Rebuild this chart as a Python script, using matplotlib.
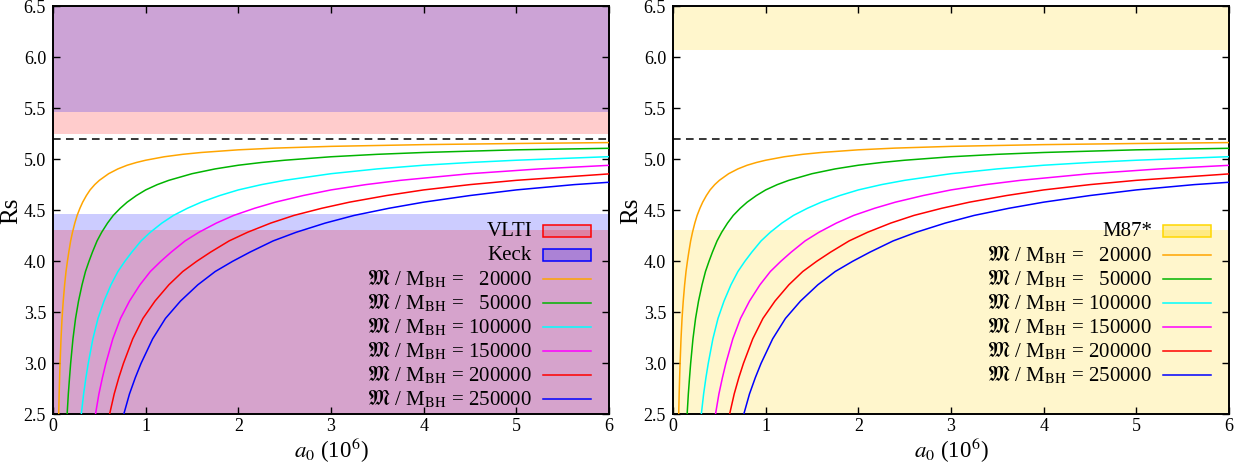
import matplotlib.pyplot as plt
from matplotlib.patches import Rectangle
from matplotlib.lines import Line2D

plt.rcParams['font.family'] = ['Liberation Serif', 'DejaVu Serif']
plt.rcParams['mathtext.fontset'] = 'stix'

# shadow radius curves, one per M/M_BH ratio (a0 in units of 1e6)
masses = [20000, 50000, 100000, 150000, 200000, 250000]
colors = ['#ffa500', '#00b400', '#00ffff', '#ff00ff', '#ff0000', '#0000ff']

a0_20k = [0.061, 0.066, 0.071, 0.076, 0.086, 0.097, 0.110, 0.125, 0.140, 0.155, 0.170, 0.190,
          0.210, 0.235, 0.260, 0.290, 0.320, 0.360, 0.400, 0.450, 0.500, 0.600, 0.700, 0.800,
          0.900, 1.000, 1.200, 1.400, 1.600, 2.000, 2.400, 3.000, 4.000, 5.000, 6.000]
rs_20k = [2.50, 2.70, 2.86, 3.00, 3.24, 3.44, 3.61, 3.77, 3.90, 4.00, 4.09, 4.20,
          4.285, 4.375, 4.45, 4.52, 4.58, 4.645, 4.70, 4.752, 4.794, 4.859, 4.906, 4.942,
          4.969, 4.991, 5.025, 5.049, 5.067, 5.093, 5.110, 5.127, 5.144, 5.155, 5.164]

a0_50k = [0.152, 0.165, 0.178, 0.190, 0.215, 0.243, 0.275, 0.313, 0.350, 0.388, 0.425, 0.475,
          0.525, 0.588, 0.650, 0.725, 0.800, 0.900, 1.000, 1.125, 1.250, 1.500, 1.750, 2.000,
          2.250, 2.500, 3.000, 3.500, 4.000, 5.000, 6.000]
rs_50k = [2.50, 2.70, 2.86, 3.00, 3.24, 3.44, 3.61, 3.77, 3.90, 4.00, 4.09, 4.20,
          4.285, 4.375, 4.45, 4.52, 4.58, 4.645, 4.70, 4.752, 4.794, 4.859, 4.906, 4.942,
          4.969, 4.991, 5.025, 5.049, 5.067, 5.093, 5.108]

a0_100k = [0.305, 0.330, 0.355, 0.380, 0.430, 0.485, 0.550, 0.625, 0.700, 0.775, 0.850, 0.950,
           1.050, 1.175, 1.300, 1.450, 1.600, 1.800, 2.000, 2.250, 2.500, 3.000, 3.500, 4.000,
           4.500, 5.000, 6.000]
rs_100k = [2.50, 2.70, 2.86, 3.00, 3.24, 3.44, 3.61, 3.77, 3.90, 4.00, 4.09, 4.20,
           4.285, 4.375, 4.45, 4.52, 4.58, 4.645, 4.70, 4.752, 4.794, 4.859, 4.906, 4.942,
           4.969, 4.991, 5.026]

a0_150k = [0.458, 0.495, 0.533, 0.570, 0.645, 0.728, 0.825, 0.938, 1.050, 1.163, 1.275, 1.425,
           1.575, 1.763, 1.950, 2.175, 2.400, 2.700, 3.000, 3.375, 3.750, 4.500, 5.250, 6.000]
rs_150k = [2.50, 2.70, 2.86, 3.00, 3.24, 3.44, 3.61, 3.77, 3.90, 4.00, 4.09, 4.20,
           4.285, 4.375, 4.45, 4.52, 4.58, 4.645, 4.70, 4.752, 4.794, 4.859, 4.906, 4.941]

a0_200k = [0.610, 0.660, 0.710, 0.760, 0.860, 0.970, 1.100, 1.250, 1.400, 1.550, 1.700, 1.900,
           2.100, 2.350, 2.600, 2.900, 3.200, 3.600, 4.000, 4.500, 5.000, 6.000]
rs_200k = [2.50, 2.70, 2.86, 3.00, 3.24, 3.44, 3.61, 3.77, 3.90, 4.00, 4.09, 4.20,
           4.285, 4.375, 4.45, 4.52, 4.58, 4.645, 4.70, 4.752, 4.794, 4.857]

a0_250k = [0.763, 0.825, 0.888, 0.950, 1.075, 1.213, 1.375, 1.563, 1.750, 1.938, 2.125, 2.375,
           2.625, 2.938, 3.250, 3.625, 4.000, 4.500, 5.000, 5.625, 6.000]
rs_250k = [2.50, 2.70, 2.86, 3.00, 3.24, 3.44, 3.61, 3.77, 3.90, 4.00, 4.09, 4.20,
           4.285, 4.375, 4.45, 4.52, 4.58, 4.645, 4.70, 4.752, 4.775]

curves = [(a0_20k, rs_20k), (a0_50k, rs_50k), (a0_100k, rs_100k),
          (a0_150k, rs_150k), (a0_200k, rs_200k), (a0_250k, rs_250k)]

# observational exclusion bands: (lower bound, upper bound)
vlti = (4.31, 5.25)
keck = (4.46, 5.46)
m87 = (4.31, 6.07)
rs_schw = 5.196

ymin, ymax = 2.5, 6.5
xmin, xmax = 0, 6

vlti_col = (1, 0, 0, 0.2)
keck_col = (0, 0, 1, 0.2)
m87_col = (1, 0.84, 0, 0.2)

fig = plt.figure(figsize=(12.48, 4.67), dpi=100)
ax1 = fig.add_axes([0.0425, 0.1128, 0.4455, 0.8737])
ax2 = fig.add_axes([0.5393, 0.1128, 0.4455, 0.8737])

def curve_label(m):
    return r'$\mathfrak{M}$ / M$_{\mathrm{BH}}$ = ' + f'{m:d}'.rjust(6, '\u2007')

def setup(ax):
    for (a0, rs), c in zip(curves, colors):
        ax.plot(a0, rs, color=c, lw=1.1, zorder=3)
    ax.axhline(rs_schw, color='black', lw=1.1, ls=(0, (5, 3.5)), zorder=3)
    ax.set_xlim(xmin, xmax)
    ax.set_ylim(ymin, ymax)
    ax.set_xticks(range(0, 7))
    ax.set_yticks([2.5, 3.0, 3.5, 4.0, 4.5, 5.0, 5.5, 6.0, 6.5])
    ax.set_yticklabels([f'{v:.1f}' for v in ax.get_yticks()])
    ax.tick_params(direction='in', top=True, right=True, length=5, width=1,
                   labelsize=13, pad=5)
    ax.tick_params(axis='x', pad=3)
    for s in ax.spines.values():
        s.set_linewidth(1.4)
    ax.set_xlabel(r'$a_0$ (10$^6$)', fontsize=16.5, labelpad=0)
    ax.set_ylabel('Rs', fontsize=18)
    ax.yaxis.set_label_coords(-0.056, 0.5)

def key(ax, entries):
    # gnuplot-style key: right-aligned text, sample on the right
    y0, dy = 0.4485, 0.0588
    tx, hx0, hx1 = 0.8615, 0.881, 0.9676
    for i, (label, kind, col, edge) in enumerate(entries):
        y = y0 - i * dy
        ax.text(tx, y, label, transform=ax.transAxes, ha='right', va='center',
                fontsize=15, zorder=6)
        if kind == 'box':
            ax.add_patch(Rectangle((hx0, y - 0.0147), hx1 - hx0, 0.0294,
                                   transform=ax.transAxes, facecolor=col,
                                   edgecolor=edge, lw=1.1, zorder=6))
        else:
            ax.add_line(Line2D([hx0, hx1], [y, y], transform=ax.transAxes,
                               color=col, lw=1.1, zorder=6))

# left panel: VLTI and Keck
ax1.axhspan(ymin, keck[0], color=keck_col, lw=0)
ax1.axhspan(ymin, vlti[0], color=vlti_col, lw=0)
ax1.axhspan(vlti[1], ymax, color=vlti_col, lw=0)
ax1.axhspan(keck[1], ymax, color=keck_col, lw=0)
setup(ax1)
key(ax1, [('VLTI', 'box', vlti_col, 'red'), ('Keck', 'box', keck_col, 'blue')]
    + [(curve_label(m), 'line', c, None) for m, c in zip(masses, colors)])

# right panel: M87*
ax2.axhspan(ymin, m87[0], color=m87_col, lw=0)
ax2.axhspan(m87[1], ymax, color=m87_col, lw=0)
setup(ax2)
key(ax2, [('M87*', 'box', (1, 0.84, 0, 0.35), '#ffd700')]
    + [(curve_label(m), 'line', c, None) for m, c in zip(masses, colors)])

fig.savefig('out.png', dpi=100)
